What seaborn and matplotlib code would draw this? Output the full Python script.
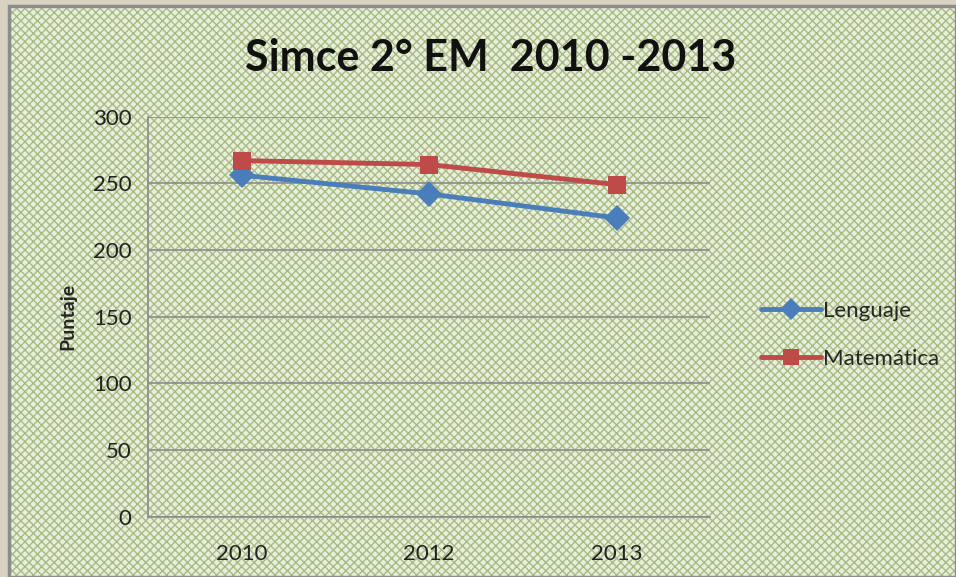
import pandas as pd
import matplotlib.pyplot as plt
import seaborn as sns
from matplotlib.patches import Rectangle

# Simce 2° EM results
years = ['2010', '2012', '2013']
lenguaje = [256, 242, 224]
matematica = [267, 264, 249]

df = pd.DataFrame({
    'Año': years * 2,
    'Puntaje': lenguaje + matematica,
    'Asignatura': ['Lenguaje'] * 3 + ['Matemática'] * 3,
})

sns.set_theme(style='white')
plt.rcParams['font.family'] = ['Lato', 'DejaVu Sans']

fig = plt.figure(figsize=(9.56, 5.77), dpi=100, facecolor='#d9d2c0')

# patterned chart background with grey frame
bg = Rectangle((0.009, 0.0), 0.991, 0.99, transform=fig.transFigure,
               facecolor='#e8eedc', edgecolor='#a7bb82', hatch='xxxx',
               linewidth=0, zorder=-2)
fig.patches.append(bg)
frame = Rectangle((0.009, 0.0), 0.991, 0.99, transform=fig.transFigure,
                  fill=False, edgecolor='#8c8c8c', linewidth=2.5, zorder=-1)
fig.patches.append(frame)

ax = fig.add_axes([0.155, 0.1045, 0.588, 0.6935])
ax.patch.set_alpha(0)

sns.lineplot(data=df, x='Año', y='Puntaje', hue='Asignatura', style='Asignatura',
             markers={'Lenguaje': 'D', 'Matemática': 's'}, dashes=False,
             palette={'Lenguaje': '#4a7ebb', 'Matemática': '#be4b48'},
             markersize=13, linewidth=3.5, markeredgewidth=0, sort=False, ax=ax)

ax.set_xlim(-0.5, 2.5)
ax.set_ylim(0, 300)
ax.set_yticks(range(0, 301, 50))
ax.yaxis.grid(True, color='#8c8c8c', linewidth=1.2)
ax.set_axisbelow(True)
for side in ['top', 'right']:
    ax.spines[side].set_visible(False)
for side in ['left', 'bottom']:
    ax.spines[side].set_color('#8c8c8c')
    ax.spines[side].set_linewidth(1.2)
ax.tick_params(axis='both', labelsize=16, colors='#222222', length=0)
ax.tick_params(axis='x', pad=20)
ax.tick_params(axis='y', pad=12)
ax.set_xlabel('')
ax.set_ylabel('Puntaje', fontsize=14, fontweight='bold', labelpad=12)

fig.text(0.513, 0.9, 'Simce 2° EM  2010 -2013', ha='center', va='center',
         fontsize=31, fontweight='bold', color='#111111')

ax.legend(title=None, frameon=False, loc='center left',
          bbox_to_anchor=(0.775, 0.42), bbox_transform=fig.transFigure,
          fontsize=16, handlelength=2.7, handletextpad=0.1, labelspacing=1.25,
          markerscale=0.9)

fig.savefig('out.png', dpi=100, facecolor=fig.get_facecolor())
